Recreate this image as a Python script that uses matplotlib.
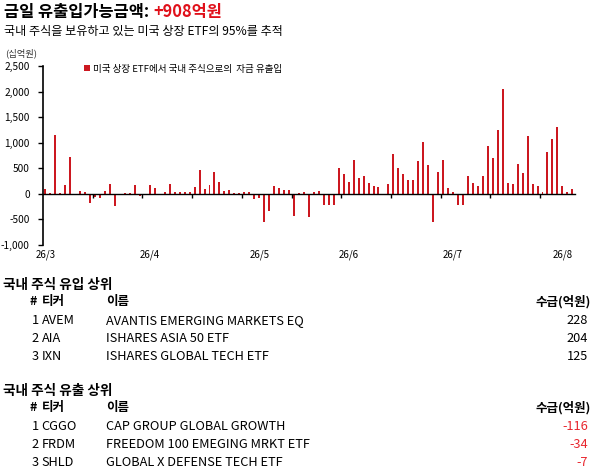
import numpy as np
import matplotlib.pyplot as plt
from matplotlib.ticker import FuncFormatter, MultipleLocator, FixedLocator

plt.rcParams['font.family'] = ['Noto Sans CJK KR', 'DejaVu Sans']

W, H = 594, 473
RED = '#E0101A'

# daily flow (십억원), one bar per trading day
flows = [100, 25, 1160, 25, 180, 730, 0, 65, 40, -180,
         -65, -90, 65, 195, -235, 0, 15, 20, 180, -45,
         0, 180, 120, 0, 35, 195, 45, 40, 40, 40,
         140, 475, 100, 165, 420, 230, 65, 85, 25, 20,
         40, 40, -105, -85, -545, -330, 145, 105, 85, 80,
         -425, 15, 30, -455, 40, 60, -215, -225, -225, 515,
         395, 240, 668, 318, 352, 222, 158, 140, 0, 198,
         770, 512, 392, 263, 277, 650, 1020, 572, -556, 433,
         656, 110, 40, -220, -220, 340, 220, 160, 340, 945,
         710, 1245, 2042, 220, 200, 592, 415, 1130, 200, 160,
         40, 810, 1065, 1300, 145, 40, 91]
month_pos = [0, 21, 43, 61, 82, 104]
month_labels = ['26/3', '26/4', '26/5', '26/6', '26/7', '26/8']

in_rank = [1, 2, 3]
in_tickers = ['AVEM', 'AIA', 'IXN']
in_names = ['AVANTIS EMERGING MARKETS EQ', 'ISHARES ASIA 50 ETF', 'ISHARES GLOBAL TECH ETF']
in_flows = [228, 204, 125]

out_rank = [1, 2, 3]
out_tickers = ['CGGO', 'FRDM', 'SHLD']
out_names = ['CAP GROUP GLOBAL GROWTH', 'FREEDOM 100 EMEGING MRKT ETF', 'GLOBAL X DEFENSE TECH ETF']
out_flows = [-116, -34, -7]

today = '+908억원'


def fx(x):
    return x / W


def fy(y):
    return 1 - y / H


fig = plt.figure(figsize=(W / 100, H / 100), dpi=100)

# header texts
title = fig.text(fx(4), fy(12), '금일 유출입가능금액: ', fontsize=11.8, fontweight='bold', va='center', ha='left')
ann = plt.matplotlib.text.Annotation(today, xy=(1, 0), xycoords=title, ha='left', va='bottom',
                                     fontsize=11.8, fontweight='bold', color=RED)
fig.add_artist(ann)
fig.text(fx(4), fy(31.5), '국내 주식을 보유하고 있는 미국 상장 ETF의 95%를 추적', fontsize=8.7, va='center', ha='left')
fig.text(fx(5), fy(53), '(십억원)', fontsize=6.7, va='center', ha='left', color='#333333')

# bar chart
ax = fig.add_axes([fx(43), fy(245), (574.8 - 43) / W, (245 - 66) / H])
x = np.arange(len(flows))
ax.bar(x, flows, width=0.4, color='#CC1820', linewidth=0, label='미국 상장 ETF에서 국내 주식으로의  자금 유출입')
ax.set_xlim(-0.5, len(flows) - 0.5)
ax.set_ylim(-1000, 2500)

for s in ['top', 'right']:
    ax.spines[s].set_visible(False)
ax.spines['left'].set_linewidth(1.2)
ax.spines['bottom'].set_position(('data', 0))
ax.spines['bottom'].set_linewidth(1.0)

ax.yaxis.set_major_locator(MultipleLocator(500))
ax.yaxis.set_major_formatter(FuncFormatter(lambda v, p: f'{v:,.0f}'))
ax.tick_params(axis='y', direction='out', length=3.5, width=1, labelsize=7.3, pad=6)

ax.xaxis.set_major_locator(FixedLocator(np.arange(9.5, len(flows), 10)))
ax.tick_params(axis='x', direction='out', length=3, width=1, labelbottom=False)

sec = ax.secondary_xaxis(0.0)
sec.set_xticks(month_pos, labels=month_labels)
sec.tick_params(length=0, labelsize=7, pad=3)
sec.spines['bottom'].set_visible(False)

ax.legend(loc='upper left', bbox_to_anchor=(0.068, 1.035), frameon=False, fontsize=6.9,
          handlelength=0.6, handleheight=0.6, handletextpad=0.3, borderpad=0)


# tables
def draw_table(y0, head, ranks, tickers, names, vals):
    fig.text(fx(3), fy(y0), head, fontsize=9.8, fontweight='bold', va='center', ha='left')
    yh = y0 + 17
    fig.text(fx(30), fy(yh), '#', fontsize=9, fontweight='bold', va='center', ha='left')
    fig.text(fx(42), fy(yh), '티커', fontsize=9, fontweight='bold', va='center', ha='left')
    fig.text(fx(106), fy(yh), '이름', fontsize=9, fontweight='bold', va='center', ha='left')
    fig.text(fx(591), fy(yh), '수급(억원)', fontsize=9, fontweight='bold', va='center', ha='right')
    for k, (r, t, n, v) in enumerate(zip(ranks, tickers, names, vals)):
        yy = y0 + 36 + 18 * k
        fig.text(fx(31.5), fy(yy), str(r), fontsize=9.2, va='center', ha='left')
        fig.text(fx(41.5), fy(yy), t, fontsize=9.2, va='center', ha='left')
        fig.text(fx(106), fy(yy), n, fontsize=9.2, va='center', ha='left')
        fig.text(fx(588), fy(yy), f'{v}', fontsize=9.2, va='center', ha='right',
                 color='#E8262E' if v < 0 else 'black')


draw_table(284.5, '국내 주식 유입 상위', in_rank, in_tickers, in_names, in_flows)
draw_table(390.5, '국내 주식 유출 상위', out_rank, out_tickers, out_names, out_flows)

fig.savefig('out.png', dpi=100)
